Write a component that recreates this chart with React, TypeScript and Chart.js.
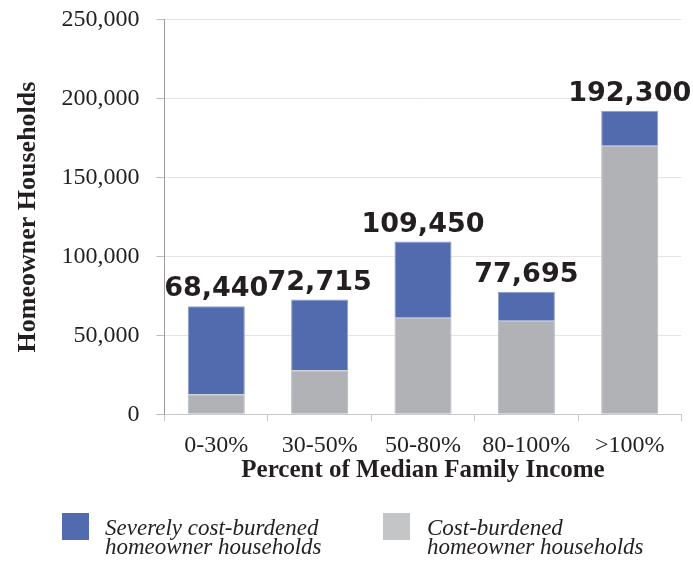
import { useEffect, useRef } from "react";
import { Chart, registerables } from "chart.js";

Chart.register(...registerables);

// Income bands (percent of median family income)
const categories = ["0-30%", "30-50%", "50-80%", "80-100%", ">100%"];
// Homeowner households paying 30-50% of income on housing
const costBurdened = [12700, 27900, 61200, 59300, 170200];
// Homeowner households paying more than 50% of income on housing
const severelyCostBurdened = [55740, 44815, 48250, 18395, 22100];
// Total cost-burdened homeowner households per band (stack totals)
const totalHouseholds = [68440, 72715, 109450, 77695, 192300];
// Y axis ticks
const yMax = 250000;
const yStep = 50000;

const BLUE = "#516BAE";
const GRAY = "#B1B2B6";
const INK = "#231f20";
const SERIF = "'Liberation Serif', 'Times New Roman', serif";

const fmt = (v: number) => v.toLocaleString("en-US");

const totalsLabels = {
  id: "totalsLabels",
  afterDatasetsDraw(chart: any) {
    const { ctx, scales } = chart;
    const x = scales.x;
    const y = scales.y;
    ctx.save();
    ctx.font = "bold 27px 'DejaVu Sans', sans-serif";
    ctx.fillStyle = INK;
    ctx.textAlign = "center";
    ctx.textBaseline = "alphabetic";
    totalHouseholds.forEach((v, i) => {
      ctx.fillText(fmt(v), x.getPixelForValue(i), y.getPixelForValue(v) - 10);
    });
    ctx.restore();
  },
};

export default function App() {
  const canvasRef = useRef<HTMLCanvasElement | null>(null);

  useEffect(() => {
    if (!canvasRef.current) return;
    const chart = new Chart(canvasRef.current, {
      type: "bar",
      data: {
        labels: categories,
        datasets: [
          {
            label: "Cost-burdened homeowner households",
            data: costBurdened,
            backgroundColor: GRAY,
            borderColor: "#B3B8C8",
            borderWidth: 1,
            barPercentage: 0.552,
            categoryPercentage: 1,
          },
          {
            label: "Severely cost-burdened homeowner households",
            data: severelyCostBurdened,
            backgroundColor: BLUE,
            borderColor: "#8E9DCB",
            borderWidth: 1,
            barPercentage: 0.552,
            categoryPercentage: 1,
          },
        ],
      },
      options: {
        animation: false,
        responsive: false,
        devicePixelRatio: 1,
        layout: { padding: { top: 19.7, right: 11.6, bottom: 0, left: 0 } },
        plugins: {
          legend: { display: false },
          tooltip: { enabled: false },
        },
        scales: {
          x: {
            stacked: true,
            grid: {
              display: true,
              drawOnChartArea: false,
              drawTicks: true,
              tickLength: 7,
              tickColor: "#c8c8c8",
              offset: true,
            },
            border: { display: true, color: "#c8c8c8" },
            ticks: {
              font: { family: SERIF, size: 24 },
              color: INK,
              padding: 10,
              maxRotation: 0,
              autoSkip: false,
            },
            title: {
              display: true,
              text: "Percent of Median Family Income",
              font: { family: SERIF, size: 25, weight: "bold" },
              color: INK,
              padding: { top: 0, bottom: 75 },
            },
            afterFit(scale: any) {
              scale.height = 146.7;
              scale.paddingLeft = 0;
              scale.paddingRight = 0;
            },
          },
          y: {
            stacked: true,
            min: 0,
            max: yMax,
            ticks: {
              stepSize: yStep,
              callback: (v: any) => fmt(Number(v)),
              font: { family: SERIF, size: 24 },
              color: INK,
              padding: 17,
            },
            grid: {
              color: "#e4e4e4",
              tickLength: 8,
              tickColor: "#bdbdbd",
            },
            border: { display: true, color: "#9a9a9a" },
            title: {
              display: true,
              text: "Homeowner Households",
              font: { family: SERIF, size: 26, weight: "bold" },
              color: INK,
              padding: { top: 13, bottom: 0 },
            },
            afterFit(scale: any) {
              scale.width = 164.6;
              scale.paddingTop = 0;
              scale.paddingBottom = 0;
            },
          },
        },
      },
      plugins: [totalsLabels],
    });
    return () => chart.destroy();
  }, []);

  const legendText: React.CSSProperties = {
    position: "absolute",
    top: 517.5,
    fontFamily: SERIF,
    fontStyle: "italic",
    fontSize: 23,
    lineHeight: "19px",
    color: INK,
    whiteSpace: "nowrap",
  };

  return (
    <div
      style={{
        position: "absolute",
        left: 0,
        top: 0,
        width: 693,
        height: 561,
        background: "#ffffff",
        overflow: "hidden",
      }}
    >
      <canvas ref={canvasRef} width={693} height={561} style={{ display: "block" }} />
      <div style={{ position: "absolute", left: 62, top: 513, width: 27, height: 27, background: BLUE }} />
      <div style={{ ...legendText, left: 105 }}>
        Severely cost-burdened
        <br />
        homeowner households
      </div>
      <div style={{ position: "absolute", left: 383, top: 513, width: 27, height: 27, background: "#C4C5C7" }} />
      <div style={{ ...legendText, left: 427 }}>
        Cost-burdened
        <br />
        homeowner households
      </div>
    </div>
  );
}
